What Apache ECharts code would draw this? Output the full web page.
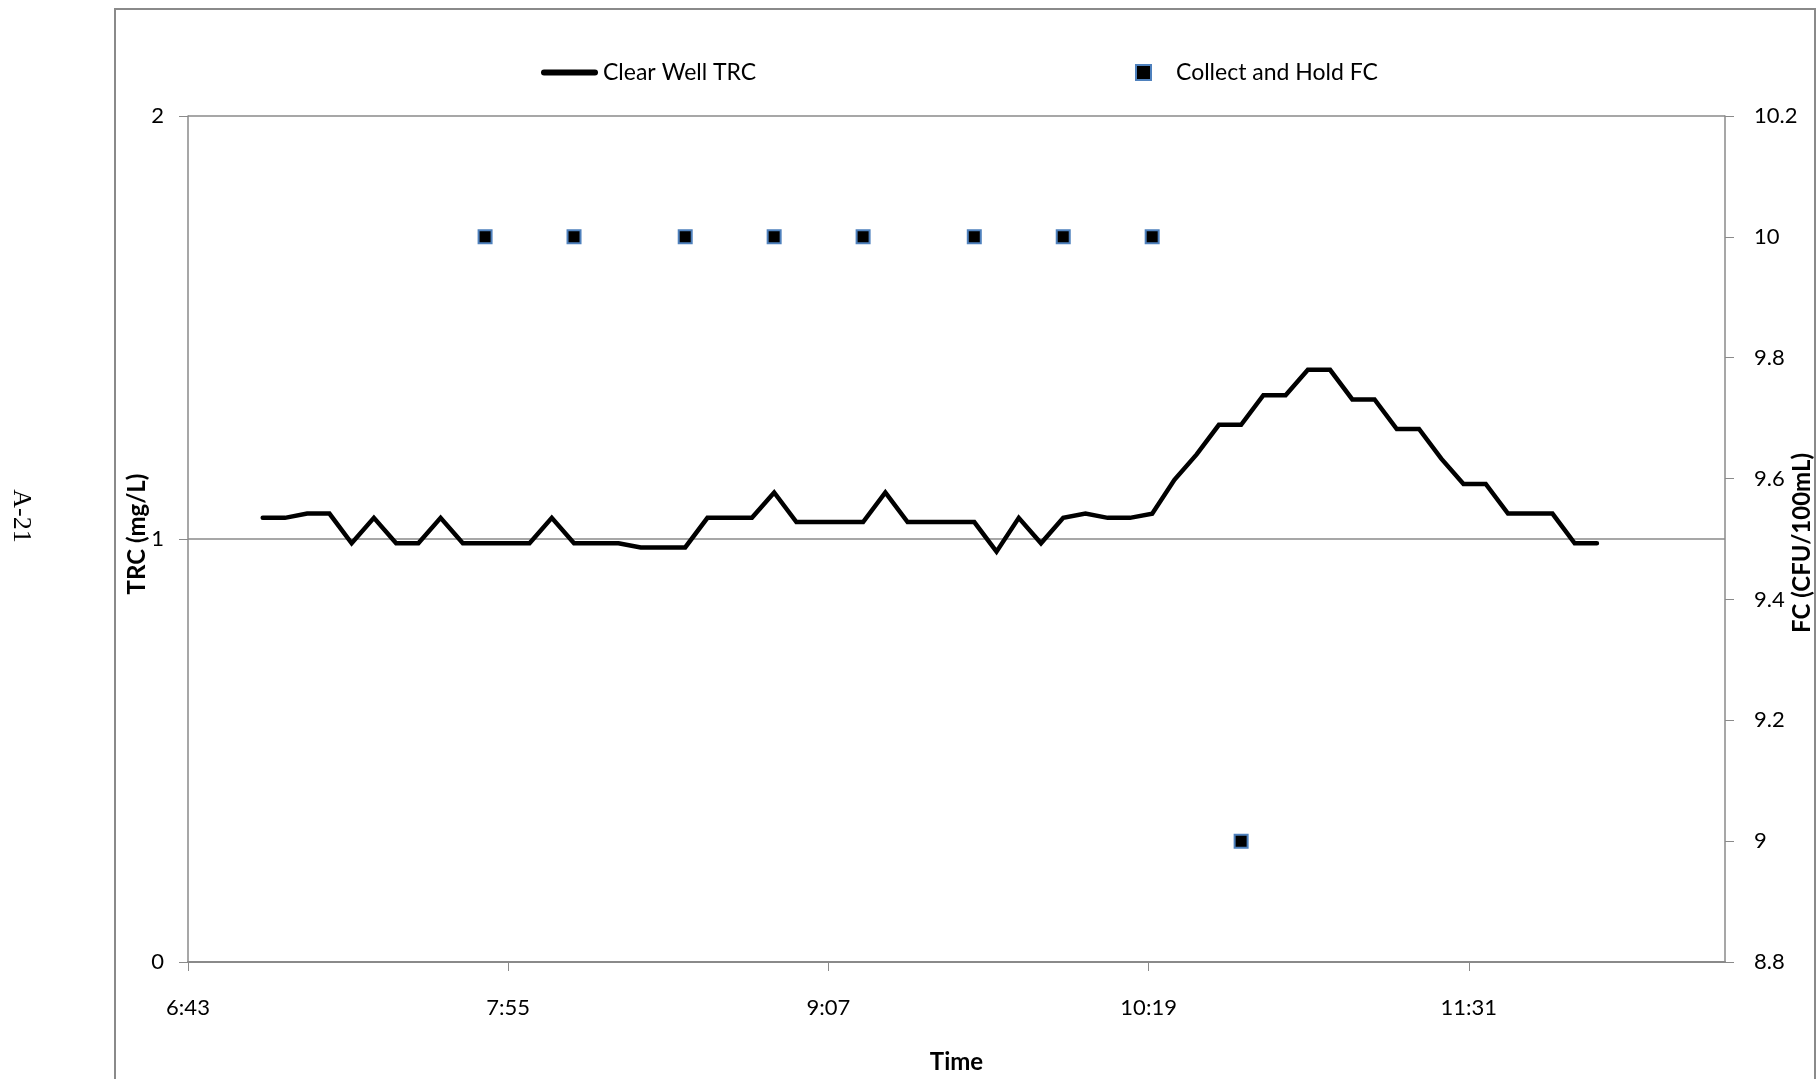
<!DOCTYPE html>
<html>
<head>
<meta charset="utf-8">
<script src="https://cdn.jsdelivr.net/npm/echarts@6/dist/echarts.min.js"></script>
<style>
  html, body { margin: 0; padding: 0; background: #ffffff; }
  #chart { width: 1819px; height: 1079px; }
</style>
</head>
<body>
<div id="chart"></div>
<script>
// Clear well total residual chlorine, sampled every 5 minutes
const trcTimes = [
  '7:00','7:05','7:10','7:15','7:20','7:25','7:30','7:35','7:40','7:45','7:50','7:55',
  '8:00','8:05','8:10','8:15','8:20','8:25','8:30','8:35','8:40','8:45','8:50','8:55',
  '9:00','9:05','9:10','9:15','9:20','9:25','9:30','9:35','9:40','9:45','9:50','9:55',
  '10:00','10:05','10:10','10:15','10:20','10:25','10:30','10:35','10:40','10:45','10:50','10:55',
  '11:00','11:05','11:10','11:15','11:20','11:25','11:30','11:35','11:40','11:45','11:50','11:55',
  '12:00'
];
const trcValues = [
  1.05, 1.05, 1.06, 1.06, 0.99, 1.05, 0.99, 0.99, 1.05, 0.99, 0.99, 0.99,
  0.99, 1.05, 0.99, 0.99, 0.99, 0.98, 0.98, 0.98, 1.05, 1.05, 1.05, 1.11,
  1.04, 1.04, 1.04, 1.04, 1.11, 1.04, 1.04, 1.04, 1.04, 0.97, 1.05, 0.99,
  1.05, 1.06, 1.05, 1.05, 1.06, 1.14, 1.20, 1.27, 1.27, 1.34, 1.34, 1.40,
  1.40, 1.33, 1.33, 1.26, 1.26, 1.19, 1.13, 1.13, 1.06, 1.06, 1.06, 0.99,
  0.99
];

// Collect-and-hold fecal coliform samples
const fcTimes = ['7:50','8:10','8:35','8:55','9:15','9:40','10:00','10:20','10:40'];
const fcValues = [10, 10, 10, 10, 10, 10, 10, 10, 9];

// Time axis: starts at 6:43.2 (0.28 day), major unit 72 min (0.05 day), ends at 0.52 day
const xTickLabels = ['6:43', '7:55', '9:07', '10:19', '11:31'];
const axisStartMin = 403.2;
const axisSpanMin = 345.6;
const axisStepMin = 72;

const trcTicks = [0, 1, 2];
const fcTicks = [8.8, 10.2];

function toAxisMinutes(t) {
  const p = t.split(':');
  return Number(p[0]) * 60 + Number(p[1]) - axisStartMin;
}

const trcData = trcTimes.map((t, i) => [toAxisMinutes(t), trcValues[i]]);
const fcData = fcTimes.map((t, i) => [toAxisMinutes(t), fcValues[i]]);
const xTickValues = xTickLabels.map((_, i) => i * axisStepMin);

const axisGray = '#8a8a8a';
const labelFont = 'Lato, "Open Sans", sans-serif';
const titleFont = 'bold 24px Lato, "Open Sans", sans-serif';

const chart = echarts.init(document.getElementById('chart'));
chart.setOption({
  animation: false,
  backgroundColor: '#ffffff',
  grid: {
    left: 188, right: 94, top: 116, bottom: 117,
    containLabel: false,
    outerBoundsMode: 'none'
  },
  legend: [
    {
      data: ['Clear Well TRC'],
      left: 536, top: 56,
      itemWidth: 57, itemHeight: 6,
      icon: 'path://M3,0 L54,0 A3,3 0 0 1 54,6 L3,6 A3,3 0 0 1 3,0 Z',
      itemStyle: { color: '#000000', borderWidth: 0 },
      textStyle: { fontFamily: labelFont, fontSize: 23, color: '#000000' },
      selectedMode: false
    },
    {
      data: ['Collect and Hold FC'],
      left: 1130, top: 56,
      itemWidth: 15, itemHeight: 15,
      icon: 'rect',
      itemStyle: { color: '#000000', borderColor: '#4F81BD', borderWidth: 2 },
      textStyle: { fontFamily: labelFont, fontSize: 23, color: '#000000', padding: [0, 0, 0, 20] },
      selectedMode: false
    }
  ],
  xAxis: {
    type: 'value',
    min: 0,
    max: axisSpanMin,
    interval: axisStepMin,
    name: 'Time',
    nameLocation: 'middle',
    nameGap: 88,
    nameMoveOverlap: false,
    nameTextStyle: { fontFamily: labelFont, fontSize: 24, fontWeight: 'bold', color: '#000000' },
    axisLine: { show: true, lineStyle: { color: axisGray, width: 2 } },
    axisTick: { show: true, inside: false, length: 9, customValues: xTickValues, lineStyle: { color: axisGray, width: 1 } },
    axisLabel: {
      margin: 35,
      customValues: xTickValues,
      fontFamily: labelFont, fontSize: 22, color: '#000000',
      formatter: v => xTickLabels[Math.round(v / axisStepMin)] || ''
    },
    splitLine: { show: false }
  },
  yAxis: [
    {
      type: 'value',
      min: trcTicks[0],
      max: trcTicks[trcTicks.length - 1],
      interval: 1,
      axisLine: { show: true, lineStyle: { color: axisGray, width: 1.5 } },
      axisTick: { show: true, inside: false, length: 9, lineStyle: { color: axisGray } },
      axisLabel: { margin: 24, fontFamily: labelFont, fontSize: 22, color: '#000000' },
      splitLine: { show: true, lineStyle: { color: axisGray, width: 1.5 } }
    },
    {
      type: 'value',
      position: 'right',
      min: fcTicks[0],
      max: fcTicks[1],
      interval: 0.2,
      axisLine: { show: true, lineStyle: { color: axisGray, width: 1.5 } },
      axisTick: { show: true, inside: false, length: 9, lineStyle: { color: axisGray } },
      axisLabel: {
        margin: 29, fontFamily: labelFont, fontSize: 22, color: '#000000',
        formatter: v => String(Math.round(v * 10) / 10)
      },
      splitLine: { show: false }
    }
  ],
  series: [
    {
      name: 'Clear Well TRC',
      type: 'line',
      yAxisIndex: 0,
      data: trcData,
      showSymbol: false,
      symbol: 'none',
      lineStyle: { color: '#000000', width: 4.5, join: 'miter', cap: 'round' },
      itemStyle: { color: '#000000' },
      z: 3
    },
    {
      name: 'Collect and Hold FC',
      type: 'scatter',
      yAxisIndex: 1,
      data: fcData,
      symbol: 'rect',
      symbolSize: 13,
      itemStyle: { color: '#000000', borderColor: '#4F81BD', borderWidth: 2, opacity: 1 },
      z: 4
    }
  ],
  graphic: [
    {
      type: 'rect',
      shape: { x: 115, y: 9, width: 1700, height: 1100 },
      style: { fill: 'none', stroke: '#8a8a8a', lineWidth: 2 },
      silent: true,
      z: -1
    },
    {
      // left-axis title, read bottom to top
      type: 'text',
      x: 137, y: 534,
      rotation: Math.PI / 2,
      style: {
        text: 'TRC (mg/L)',
        font: titleFont,
        fill: '#000000',
        align: 'center',
        verticalAlign: 'middle'
      },
      silent: true
    },
    {
      // right-axis title, read bottom to top
      type: 'text',
      x: 1802, y: 543,
      rotation: Math.PI / 2,
      style: {
        text: 'FC (CFU/100mL)',
        font: titleFont,
        fill: '#000000',
        align: 'center',
        verticalAlign: 'middle'
      },
      silent: true
    },
    {
      type: 'text',
      x: 21, y: 516,
      rotation: -Math.PI / 2,
      style: {
        text: 'A-21',
        font: '26px "Liberation Serif", "DejaVu Serif", serif',
        fill: '#000000',
        align: 'center',
        verticalAlign: 'middle'
      },
      silent: true
    }
  ]
});
</script>
</body>
</html>
